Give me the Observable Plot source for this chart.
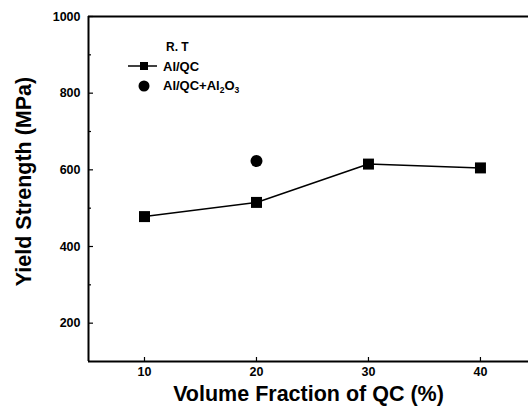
<!DOCTYPE html>
<html>
<head>
<meta charset="utf-8">
<script src="https://cdn.jsdelivr.net/npm/d3@7"></script>
<script src="https://cdn.jsdelivr.net/npm/@observablehq/plot@0.6"></script>
<style>
  html, body { margin: 0; padding: 0; background: #fff; }
  #chart { width: 528px; height: 415px; }
  svg { font-family: "Liberation Sans", Arial, sans-serif; }
</style>
</head>
<body>
<div id="chart"></div>
<script>
// Data
const volumeFraction = [10, 20, 30, 40];
const alQC = [478, 515, 615, 605];
const alQCAl2O3X = [20];
const alQCAl2O3 = [623];

const yMajorTicks = [200, 400, 600, 800, 1000];
const yMinorTicks = [300, 500, 700, 900];
const xTicks = [10, 20, 30, 40];

const xLabel = "Volume Fraction of QC (%)";
const yLabel = "Yield Strength (MPa)";

const seriesA = volumeFraction.map((x, i) => ({x, y: alQC[i]}));
const seriesB = alQCAl2O3X.map((x, i) => ({x, y: alQCAl2O3[i]}));

const plot = Plot.plot({
  width: 528,
  height: 415,
  marginLeft: 88,
  marginTop: 16,
  marginBottom: 54,
  marginRight: 0,
  style: {background: "#fff", color: "#000", fontFamily: "Liberation Sans, Arial, sans-serif"},
  x: {domain: [5, 44.29]},
  y: {domain: [100, 1000]},
  marks: [
    // frame lines
    Plot.ruleY([1000], {stroke: "#000", strokeWidth: 2}),
    Plot.ruleY([100], {stroke: "#000", strokeWidth: 2}),
    Plot.ruleX([5], {stroke: "#000", strokeWidth: 2}),
    // y axis: labels
    Plot.axisY({ticks: yMajorTicks, tickSize: 0, tickPadding: 8, tickFormat: d3.format("d"), label: null, fontSize: 12.5, fontWeight: "bold"}),
    // y major ticks inward
    Plot.axisY({ticks: yMajorTicks, tickSize: -5, tickFormat: () => "", label: null, strokeWidth: 1.2}),
    Plot.axisY({ticks: yMinorTicks, tickSize: -3, tickFormat: () => "", label: null, strokeWidth: 1.2}),
    // x axis
    Plot.axisX({ticks: xTicks, tickSize: 0, tickPadding: 6, label: null, fontSize: 12.5, fontWeight: "bold"}),
    Plot.axisX({ticks: xTicks, tickSize: -4, tickFormat: () => "", label: null, strokeWidth: 1.2}),
    // axis titles
    Plot.text([xLabel], {frameAnchor: "bottom", dy: 39, fontSize: 21.5, fontWeight: "bold", fill: "#000", textAnchor: "middle"}),
    Plot.text([yLabel], {frameAnchor: "left", dx: -64, dy: -7.5, rotate: -90, fontSize: 21.5, fontWeight: "bold", fill: "#000", textAnchor: "middle"}),
    // data
    Plot.line(seriesA, {x: "x", y: "y", stroke: "#000", strokeWidth: 1.5}),
    Plot.dot(seriesA, {x: "x", y: "y", symbol: "square", r: 6.2, fill: "#000", stroke: "none"}),
    Plot.dot(seriesB, {x: "x", y: "y", symbol: "circle", r: 6, fill: "#000", stroke: "none"})
  ]
});

document.getElementById("chart").appendChild(plot);

// Legend (layout element, placed inside the plot frame)
const svg = d3.select(plot);
const lg = svg.append("g")
  .attr("font-family", "Liberation Sans, Arial, sans-serif")
  .attr("font-weight", "bold")
  .attr("fill", "#000")
  .attr("text-anchor", "start");
lg.append("text").attr("x", 166).attr("y", 51).attr("font-size", 12).text("R. T");
lg.append("line").attr("x1", 128).attr("x2", 157).attr("y1", 66).attr("y2", 66).attr("stroke", "#000").attr("stroke-width", 1.5);
lg.append("rect").attr("x", 140).attr("y", 62).attr("width", 8).attr("height", 8).attr("fill", "#000");
lg.append("text").attr("x", 163).attr("y", 70.5).attr("font-size", 13).text("Al/QC");
lg.append("circle").attr("cx", 144).attr("cy", 86).attr("r", 5.5).attr("fill", "#000");
const t2 = lg.append("text").attr("x", 163).attr("y", 90).attr("font-size", 13);
t2.append("tspan").text("Al/QC+Al");
t2.append("tspan").attr("font-size", 8.5).attr("dy", 3).text("2");
t2.append("tspan").attr("dy", -3).text("O");
t2.append("tspan").attr("font-size", 8.5).attr("dy", 3).text("3");
</script>
</body>
</html>
